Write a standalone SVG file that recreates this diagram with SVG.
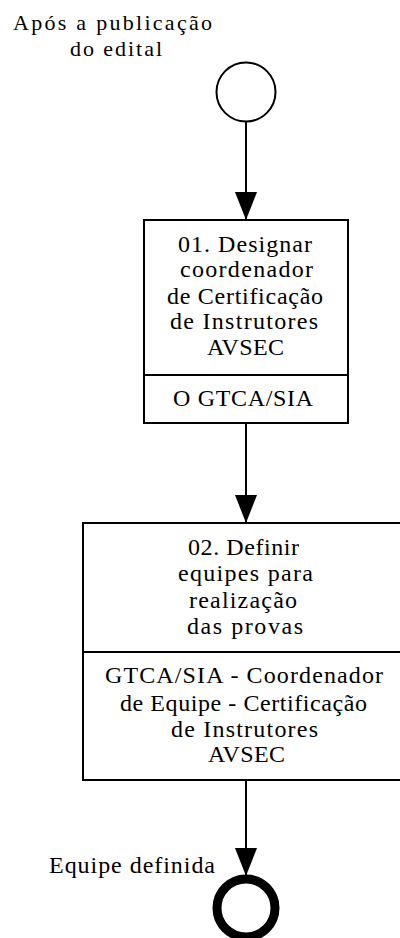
<svg xmlns="http://www.w3.org/2000/svg" width="400" height="938" viewBox="0 0 400 938">
<style>
.t{font-family:"Liberation Serif","Times New Roman",serif;font-size:24px;fill:#000;text-anchor:middle}
.s{font-size:22px}
.box{fill:#fff;stroke:#000;stroke-width:2}
.ln{stroke:#000;stroke-width:2;fill:none}
</style>
<defs>
<marker id="arr" viewBox="0 0 28 22" refX="28" refY="11" markerWidth="28" markerHeight="22" markerUnits="userSpaceOnUse" orient="auto">
<path d="M0,0 L28,11 L0,22 z" fill="#000"/>
</marker>
</defs>
<rect width="400" height="938" fill="#fff"/>
<g id="connectors">
<line class="ln" x1="246" y1="122" x2="246" y2="220" marker-end="url(#arr)"/>
<line class="ln" x1="246" y1="423" x2="246" y2="523" marker-end="url(#arr)"/>
<line class="ln" x1="246" y1="780" x2="246" y2="876" marker-end="url(#arr)"/>
</g>
<g id="start">
<circle cx="246" cy="92" r="29.5" fill="#fff" stroke="#000" stroke-width="2"/>
<text class="t s" x="112.5" y="30" textLength="199">Após a publicação</text>
<text class="t s" x="116" y="55.5" textLength="92">do edital</text>
</g>
<g id="task1">
<rect class="box" x="144" y="220" width="204" height="203"/>
<line class="ln" x1="144" y1="375" x2="348" y2="375"/>
<text class="t" x="245" y="252" textLength="134">01. Designar</text>
<text class="t" x="246.5" y="277" textLength="133">coordenador</text>
<text class="t" x="245" y="304" textLength="156">de Certificação</text>
<text class="t" x="244" y="329" textLength="148">de Instrutores</text>
<text class="t" x="245.5" y="355" textLength="77">AVSEC</text>
<text class="t" x="243" y="406" textLength="140">O GTCA/SIA</text>
</g>
<g id="task2">
<rect class="box" x="83" y="523" width="326" height="257"/>
<line class="ln" x1="83" y1="652" x2="409" y2="652"/>
<text class="t" x="243.5" y="555" textLength="111">02. Definir</text>
<text class="t" x="245.5" y="581" textLength="135">equipes para</text>
<text class="t" x="243" y="608" textLength="108">realização</text>
<text class="t" x="245" y="634" textLength="116">das provas</text>
<text class="t" x="244" y="683" textLength="278">GTCA/SIA - Coordenador</text>
<text class="t" x="243.5" y="711" textLength="247">de Equipe - Certificação</text>
<text class="t" x="244.5" y="737" textLength="147">de Instrutores</text>
<text class="t" x="246.5" y="762" textLength="77">AVSEC</text>
</g>
<g id="end">
<circle cx="246" cy="908" r="29" fill="#fff" stroke="#000" stroke-width="9"/>
<text class="t" x="132" y="873" textLength="166">Equipe definida</text>
</g>
</svg>
